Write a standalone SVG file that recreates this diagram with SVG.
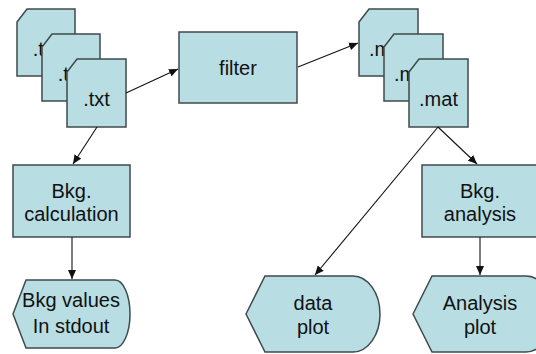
<svg xmlns="http://www.w3.org/2000/svg" width="536" height="354" viewBox="0 0 536 354">
<defs>
<style>
.n{fill:#b8dde3;stroke:#3f4a4c;stroke-width:1.5}
.t{font-family:"Liberation Sans",Arial,sans-serif;font-size:20px;fill:#111;text-anchor:middle}
.c{stroke:#111;stroke-width:1.1;fill:none;marker-end:url(#ah)}
</style>
<marker id="ah" markerUnits="userSpaceOnUse" markerWidth="10" markerHeight="8" refX="9" refY="4" orient="auto">
<path d="M0,0 L9,4 L0,8 Z" fill="#111"/>
</marker>
</defs>
<rect width="536" height="354" fill="#fff"/>
<g id="txt1"><path class="n" d="M17,22 L27,9 L75,9 L75,76 L17,76 Z"/><text class="t" x="46" y="56">.txt</text></g>
<g id="txt2"><path class="n" d="M42,47 L52,34 L100,34 L100,101 L42,101 Z"/><text class="t" x="71" y="81">.txt</text></g>
<g id="txt3"><path class="n" d="M67,72 L77,59 L126,59 L126,127 L67,127 Z"/><text class="t" x="96.5" y="106">.txt</text></g>
<g id="filter"><rect class="n" x="179" y="32" width="118" height="71"/><text class="t" x="238" y="75">filter</text></g>
<g id="mat1"><path class="n" d="M359,22 L369,9 L418,9 L418,76 L359,76 Z"/><text class="t" x="388.5" y="56">.mat</text></g>
<g id="mat2"><path class="n" d="M384,47 L394,34 L443,34 L443,101 L384,101 Z"/><text class="t" x="413.5" y="81">.mat</text></g>
<g id="mat3"><path class="n" d="M409,72 L419,59 L468,59 L468,127 L409,127 Z"/><text class="t" x="438.5" y="106">.mat</text></g>
<g id="bkgcalc"><rect class="n" x="13" y="165" width="117" height="72"/><text class="t" x="71.5" y="198">Bkg.</text><text class="t" x="71.5" y="221">calculation</text></g>
<g id="bkganalysis"><rect class="n" x="422" y="165" width="116" height="72"/><text class="t" x="480" y="198">Bkg.</text><text class="t" x="480" y="221">analysis</text></g>
<g id="bkgvalues"><path class="n" d="M13,314 L26,280 L115,280 A15,34 0 0 1 115,348 L26,348 Z"/><text class="t" x="71" y="307">Bkg values</text><text class="t" x="71" y="333">In stdout</text></g>
<g id="dataplot"><path class="n" d="M246,314 L265,276 L353,276 A27,38 0 0 1 353,352 L265,352 Z"/><text class="t" x="313" y="310">data</text><text class="t" x="313" y="334">plot</text></g>
<g id="analysisplot"><path class="n" d="M413,314 L432,276 L526,276 A27,38 0 0 1 526,352 L432,352 Z"/><text class="t" x="480" y="310">Analysis</text><text class="t" x="480" y="334">plot</text></g>
<g id="connectors">
<line class="c" x1="126" y1="93" x2="178" y2="69"/>
<line class="c" x1="298" y1="67" x2="358" y2="43"/>
<line class="c" x1="97" y1="127" x2="73" y2="164"/>
<line class="c" x1="72" y1="237" x2="72" y2="279"/>
<line class="c" x1="438" y1="127" x2="315" y2="275"/>
<line class="c" x1="438" y1="127" x2="477" y2="164"/>
<line class="c" x1="480" y1="237" x2="480" y2="275"/>
</g>
</svg>
